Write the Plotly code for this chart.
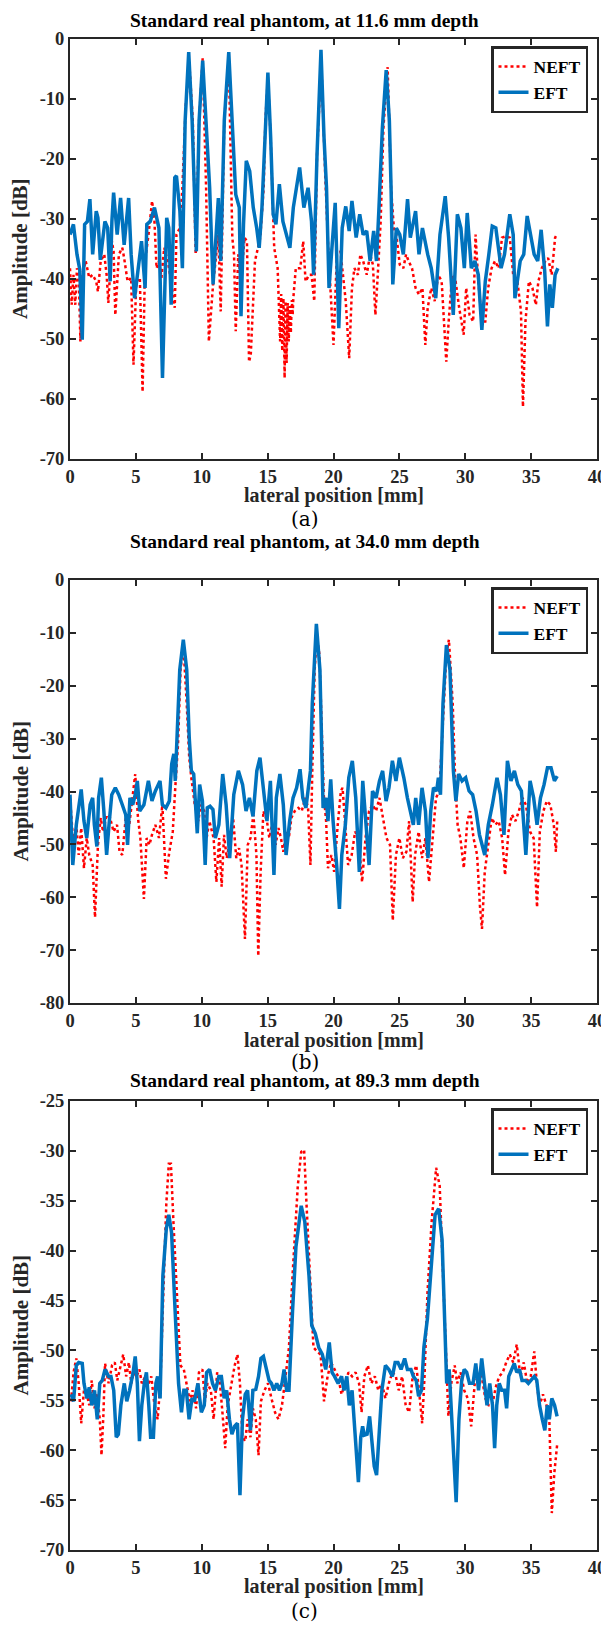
import plotly.graph_objects as go

# ---------------- data (lateral position [mm], amplitude [dB]) ----------------
# (a) 11.6 mm depth
a_eft_x = [0.00,0.26,0.53,0.74,0.93,1.11,1.32,1.51,1.72,1.99,2.12,2.30,2.65,2.86,3.05,3.18,3.31,3.58,3.84,4.11,4.45,4.64,4.90,5.17,5.43,5.70,5.83,6.09,6.41,6.75,7.02,7.34,7.50,7.68,7.95,8.08,8.34,8.53,8.74,9.01,9.27,9.59,9.80,10.07,10.33,10.60,10.86,11.26,11.44,11.71,12.05,12.32,12.58,12.85,12.98,13.17,13.38,13.64,13.91,14.17,14.36,14.57,14.78,15.02,15.23,15.42,15.63,15.89,16.16,16.42,16.69,16.95,17.43,17.75,18.07,18.33,18.49,18.75,19.05,19.28,19.47,19.66,20.13,20.40,20.66,20.93,21.19,21.40,21.72,21.99,22.25,22.52,22.78,23.05,23.26,23.44,23.71,24.00,24.24,24.37,24.50,24.77,25.03,25.30,25.62,25.83,26.23,26.49,26.75,27.15,27.42,27.76,28.08,28.48,28.74,29.09,29.40,29.67,29.93,30.15,30.46,30.73,30.99,31.26,31.52,31.79,32.05,32.32,32.72,32.98,33.38,33.64,33.77,34.17,34.44,34.70,34.97,35.23,35.50,35.76,36.03,36.24,36.42,36.61,36.82,37.03]
a_eft = [-32.6,-30.9,-35.9,-38.4,-50.1,-30.9,-30.4,-26.7,-35.9,-28.7,-29.8,-36.8,-30.4,-31.5,-40.4,-30.4,-25.6,-32.6,-26.5,-34.3,-26.5,-35.9,-43.2,-38.2,-33.7,-41.5,-30.9,-30.4,-28.1,-31.5,-56.5,-29.8,-31.5,-44.3,-23.1,-22.8,-28.7,-38.2,-13.6,-2.2,-13.6,-35.4,-13.6,-3.6,-13.6,-24.8,-40.9,-26.5,-37.0,-13.6,-2.2,-13.6,-25.9,-28.1,-46.2,-30.9,-20.3,-22.0,-28.1,-31.5,-34.8,-28.1,-16.4,-5.6,-16.4,-29.2,-30.9,-24.2,-30.4,-32.6,-34.8,-28.1,-21.4,-28.1,-24.8,-30.4,-39.3,-19.2,-1.8,-16.4,-24.8,-41.5,-27.3,-48.2,-31.5,-27.9,-32.0,-27.0,-33.1,-29.2,-32.6,-32.0,-37.0,-32.0,-37.0,-28.7,-14.8,-5.2,-13.6,-24.8,-40.9,-31.5,-32.6,-35.9,-26.7,-33.1,-28.7,-35.9,-31.5,-35.9,-38.2,-43.2,-32.6,-26.2,-33.1,-46.0,-29.2,-31.5,-38.2,-29.0,-38.2,-37.0,-39.3,-48.5,-40.4,-35.9,-31.2,-31.5,-38.2,-35.9,-29.2,-32.6,-43.2,-37.0,-35.9,-29.5,-32.6,-35.9,-37.0,-31.8,-38.7,-47.9,-40.9,-44.8,-39.3,-38.2]
a_neft_x = [0.00,0.13,0.26,0.40,0.53,0.66,0.79,0.93,1.19,1.46,1.72,1.99,2.12,2.33,2.60,2.78,2.91,3.18,3.31,3.44,3.71,3.97,4.11,4.37,4.64,4.82,5.03,5.30,5.51,5.70,5.96,6.23,6.41,6.57,6.75,6.94,7.15,7.42,7.68,7.95,8.08,8.34,8.53,8.79,9.06,9.32,9.54,9.80,10.07,10.33,10.54,10.86,11.26,11.44,11.71,12.05,12.32,12.45,12.58,12.77,12.98,13.25,13.43,13.59,13.72,13.91,14.04,14.44,14.70,14.83,15.02,15.23,15.36,15.50,15.76,15.85,15.95,16.03,16.11,16.20,16.29,16.36,16.44,16.52,16.60,16.68,16.76,16.84,16.90,16.95,17.14,17.48,17.70,17.88,18.15,18.33,18.54,18.75,19.07,19.39,19.60,20.00,20.26,20.53,20.79,20.93,21.19,21.40,21.59,21.85,22.04,22.25,22.52,22.78,22.99,23.18,23.36,23.58,23.79,24.11,24.37,24.58,24.77,25.03,25.30,25.51,25.70,25.96,26.23,26.49,26.75,26.97,27.15,27.42,27.68,27.95,28.21,28.34,28.56,28.74,29.01,29.27,29.54,29.88,30.07,30.33,30.60,30.78,30.99,31.26,31.52,31.74,32.00,32.26,32.53,32.79,33.06,33.38,33.64,33.96,34.23,34.38,34.57,34.83,35.10,35.36,35.55,35.81,36.08,36.29,36.56,36.82,36.95]
a_neft = [-38.2,-44.3,-39.3,-44.3,-38.2,-39.3,-50.4,-39.3,-37.0,-39.8,-39.3,-40.4,-42.1,-37.0,-35.9,-39.3,-44.0,-33.7,-35.4,-46.0,-35.9,-34.8,-36.5,-40.4,-39.8,-54.3,-40.4,-39.8,-58.8,-37.0,-32.6,-27.0,-30.4,-38.2,-37.0,-39.8,-34.8,-37.0,-40.4,-44.8,-32.6,-31.5,-24.8,-10.9,-4.2,-13.6,-35.9,-13.6,-3.2,-24.8,-50.4,-40.9,-32.6,-45.4,-13.6,-3.1,-33.1,-35.9,-48.7,-35.9,-40.4,-33.1,-33.7,-53.8,-52.6,-44.3,-37.0,-33.1,-24.8,-13.6,-6.4,-16.4,-24.8,-34.8,-38.2,-44.0,-50.4,-42.5,-52.0,-43.2,-56.5,-43.7,-54.0,-44.0,-50.4,-44.5,-49.0,-43.5,-46.0,-43.2,-38.2,-38.2,-33.7,-40.4,-39.3,-39.3,-43.7,-19.2,-3.6,-23.7,-34.8,-51.0,-35.9,-35.4,-41.5,-43.7,-53.2,-41.5,-38.2,-39.3,-35.9,-37.0,-39.3,-35.9,-37.6,-46.0,-39.3,-30.4,-14.8,-4.7,-24.8,-31.5,-32.6,-37.6,-38.2,-35.9,-37.0,-38.2,-41.5,-42.6,-41.5,-51.0,-44.8,-41.5,-43.7,-39.3,-40.4,-46.0,-53.8,-47.1,-39.3,-40.4,-44.8,-49.3,-41.5,-46.0,-47.1,-32.6,-40.4,-47.1,-47.1,-41.5,-38.2,-37.0,-38.2,-33.1,-32.9,-33.1,-39.3,-40.4,-45.4,-61.3,-47.1,-40.4,-41.5,-44.3,-40.4,-38.2,-37.0,-36.5,-39.3,-33.1,-32.6]

# (b) 34.0 mm depth
b_eft_x = [0.00,0.21,0.48,0.66,0.85,1.06,1.27,1.53,1.72,1.85,2.04,2.17,2.38,2.57,2.78,2.96,3.17,3.44,3.70,3.97,4.23,4.37,4.55,4.76,4.95,5.11,5.29,5.61,5.95,6.22,6.48,6.83,7.01,7.28,7.54,7.72,7.88,7.99,8.12,8.33,8.60,8.86,9.05,9.21,9.39,9.52,9.66,9.84,10.05,10.26,10.42,10.63,10.85,11.03,11.30,11.59,11.85,12.12,12.43,12.78,13.10,13.36,13.62,13.89,14.18,14.42,14.68,14.95,15.21,15.48,15.66,15.93,16.19,16.40,16.67,16.93,17.20,17.46,17.67,17.91,18.12,18.25,18.39,18.70,18.97,19.10,19.21,19.44,19.58,19.79,19.97,20.24,20.45,20.63,20.90,21.16,21.43,21.69,21.96,22.22,22.49,22.70,22.96,23.23,23.49,23.73,23.99,24.21,24.47,24.74,25.00,25.34,25.61,25.82,26.06,26.24,26.46,26.72,26.98,27.17,27.38,27.59,27.83,27.96,28.12,28.31,28.57,28.84,29.10,29.29,29.50,29.76,30.03,30.29,30.56,30.82,31.08,31.48,31.75,32.06,32.41,32.67,32.94,33.20,33.47,33.73,33.99,34.26,34.60,34.92,35.19,35.45,35.71,35.98,36.24,36.51,36.77,36.98]
b_eft = [-40.6,-53.9,-46.3,-42.5,-39.6,-45.6,-48.8,-42.5,-41.2,-46.3,-50.4,-41.2,-37.4,-43.7,-52.0,-46.3,-40.6,-39.3,-40.6,-42.5,-44.4,-50.1,-41.2,-42.5,-40.6,-38.0,-43.7,-42.5,-38.0,-41.8,-39.9,-38.0,-42.5,-43.1,-41.8,-34.8,-32.9,-38.0,-29.8,-17.0,-11.3,-17.0,-29.8,-36.1,-36.7,-41.2,-47.9,-38.7,-41.8,-53.9,-43.1,-42.8,-43.4,-48.8,-46.3,-36.7,-42.5,-52.6,-40.6,-36.1,-38.7,-43.7,-41.2,-44.7,-36.1,-33.6,-39.3,-45.6,-38.0,-55.8,-41.2,-36.7,-42.5,-52.0,-45.6,-41.2,-39.3,-35.8,-41.2,-43.1,-38.7,-36.1,-23.4,-8.3,-17.0,-36.1,-43.1,-41.2,-45.6,-37.7,-45.6,-53.9,-62.2,-52.0,-46.3,-37.4,-34.2,-41.2,-55.2,-38.0,-46.3,-53.9,-39.9,-41.2,-38.0,-36.1,-41.8,-39.3,-34.2,-38.0,-33.6,-37.4,-41.2,-43.7,-46.3,-41.2,-46.3,-39.3,-43.7,-52.6,-43.7,-39.3,-39.9,-37.4,-40.6,-23.4,-12.3,-17.0,-36.1,-41.8,-36.7,-38.0,-37.4,-39.9,-40.6,-43.7,-48.2,-52.0,-46.3,-42.5,-37.4,-40.6,-48.2,-34.2,-38.0,-36.1,-38.7,-39.9,-52.0,-38.0,-41.2,-46.3,-41.2,-38.7,-35.5,-35.5,-38.0,-37.1]
b_neft_x = [0.00,0.13,0.26,0.48,0.66,0.85,1.06,1.27,1.46,1.72,1.90,2.12,2.33,2.51,2.78,3.04,3.31,3.57,3.76,3.97,4.23,4.50,4.76,4.95,5.16,5.34,5.61,5.82,6.03,6.22,6.48,6.75,7.01,7.28,7.54,7.80,7.99,8.20,8.39,8.60,8.86,9.05,9.21,9.47,9.74,9.92,10.19,10.37,10.58,10.90,11.11,11.32,11.51,11.69,11.90,12.17,12.38,12.62,12.83,13.02,13.28,13.49,13.70,13.92,14.15,14.29,14.47,14.68,14.95,15.13,15.34,15.61,15.82,16.01,16.19,16.40,16.61,16.80,17.06,17.33,17.59,17.86,18.07,18.25,18.39,18.57,18.73,18.92,19.05,19.26,19.44,19.58,19.84,20.05,20.32,20.56,20.69,20.90,21.11,21.38,21.64,21.90,22.17,22.43,22.70,22.96,23.23,23.49,23.76,24.02,24.29,24.50,24.74,25.00,25.26,25.53,25.74,26.01,26.19,26.46,26.72,26.98,27.25,27.51,27.78,28.04,28.31,28.57,28.76,29.05,29.23,29.42,29.63,29.89,30.16,30.37,30.63,30.90,31.11,31.27,31.48,31.75,32.01,32.28,32.54,32.80,33.02,33.28,33.54,33.81,34.07,34.34,34.60,34.92,35.19,35.45,35.66,35.93,36.19,36.46,36.72,36.88,36.98]
b_neft = [-41.2,-45.6,-50.1,-46.3,-52.0,-46.9,-54.5,-48.8,-52.0,-53.9,-63.8,-50.1,-45.0,-47.6,-44.4,-45.0,-47.6,-46.3,-51.4,-52.0,-45.0,-46.3,-41.2,-36.7,-45.0,-48.8,-60.3,-48.8,-50.1,-48.2,-46.3,-48.8,-42.5,-56.5,-51.4,-47.6,-39.3,-31.0,-17.0,-12.0,-23.4,-33.6,-37.4,-42.5,-45.6,-42.5,-43.7,-48.8,-45.6,-48.8,-57.1,-48.8,-58.0,-48.2,-52.6,-48.8,-45.0,-52.6,-50.7,-53.9,-67.9,-50.1,-48.8,-44.4,-52.0,-71.1,-55.2,-43.7,-45.6,-48.8,-46.3,-50.1,-46.9,-48.8,-51.4,-47.6,-48.8,-45.0,-43.7,-43.1,-43.7,-41.2,-43.1,-53.9,-36.1,-17.0,-10.7,-13.9,-23.4,-40.6,-45.6,-54.5,-52.0,-55.2,-46.3,-39.9,-39.3,-46.3,-53.9,-52.0,-47.6,-48.8,-57.1,-48.8,-43.7,-42.5,-43.7,-41.2,-45.0,-48.8,-50.1,-64.4,-52.0,-48.8,-52.6,-51.4,-45.6,-60.9,-52.0,-47.6,-52.6,-48.8,-57.1,-48.8,-41.2,-39.9,-26.6,-13.9,-11.3,-23.4,-37.4,-46.3,-48.8,-54.5,-45.6,-43.7,-48.8,-52.0,-61.5,-66.0,-55.2,-50.1,-45.0,-46.3,-45.6,-48.8,-55.8,-47.6,-44.4,-45.6,-43.7,-41.2,-42.5,-47.6,-48.8,-61.9,-47.6,-43.7,-41.8,-42.5,-46.3,-51.4,-45.6]

# (c) 89.3 mm depth
c_eft_x = [0.08,0.27,0.48,0.66,0.93,1.06,1.28,1.46,1.65,1.86,2.07,2.26,2.45,2.66,2.93,3.11,3.32,3.51,3.67,3.86,4.12,4.31,4.52,4.79,4.95,5.11,5.27,5.45,5.64,5.80,5.98,6.12,6.33,6.52,6.65,6.84,7.05,7.31,7.50,7.71,7.98,8.24,8.46,8.64,8.83,9.04,9.26,9.44,9.71,9.97,10.19,10.37,10.59,10.82,11.04,11.30,11.49,11.70,11.89,12.10,12.29,12.50,12.71,12.90,13.09,13.30,13.48,13.70,13.88,14.10,14.31,14.49,14.68,14.89,15.11,15.29,15.48,15.69,15.90,16.09,16.25,16.44,16.62,16.89,17.15,17.55,17.82,18.14,18.35,18.62,18.88,19.15,19.41,19.68,19.89,20.08,20.35,20.61,20.80,21.01,21.20,21.41,21.68,21.89,22.07,22.21,22.34,22.55,22.74,22.87,23.09,23.27,23.46,23.67,23.94,24.20,24.47,24.68,24.89,25.13,25.40,25.61,25.88,26.06,26.28,26.46,26.68,26.86,27.13,27.39,27.71,27.98,28.24,28.46,28.59,28.78,28.94,29.12,29.31,29.52,29.73,29.92,30.11,30.32,30.59,30.80,31.01,31.25,31.46,31.65,31.86,32.07,32.23,32.39,32.58,32.77,32.98,33.14,33.30,33.51,33.72,33.91,34.12,34.31,34.57,34.79,34.97,35.24,35.43,35.64,35.85,36.04,36.22,36.38,36.57,36.78,36.97]
c_eft = [-54.4,-55.1,-51.5,-51.2,-51.3,-53.3,-54.8,-53.7,-55.5,-54.0,-56.9,-53.3,-53.0,-51.9,-52.6,-52.6,-54.0,-58.7,-58.4,-55.5,-53.3,-55.1,-54.0,-52.2,-50.6,-53.3,-59.1,-55.5,-53.3,-52.2,-55.5,-58.7,-58.7,-53.3,-52.6,-54.8,-42.5,-37.8,-36.4,-38.2,-46.1,-53.3,-56.2,-54.0,-54.0,-56.9,-54.8,-55.1,-53.3,-56.2,-55.5,-52.2,-51.9,-53.3,-54.0,-52.6,-52.6,-54.8,-54.0,-56.9,-58.4,-57.6,-57.3,-64.5,-56.9,-54.4,-54.0,-58.0,-54.0,-53.9,-52.6,-50.8,-50.6,-51.9,-53.0,-53.3,-54.0,-53.3,-54.0,-53.3,-51.9,-54.0,-54.0,-46.1,-39.6,-35.5,-37.1,-42.5,-47.5,-48.3,-49.7,-50.4,-51.9,-49.2,-52.2,-52.6,-53.3,-52.6,-54.0,-52.6,-55.5,-54.0,-59.8,-63.2,-58.7,-57.6,-58.5,-58.4,-56.6,-58.7,-61.6,-62.5,-58.7,-54.0,-51.5,-51.9,-52.6,-51.2,-51.2,-51.9,-50.8,-51.9,-51.9,-52.6,-53.0,-54.6,-54.0,-49.7,-46.8,-42.5,-36.4,-35.8,-38.9,-47.9,-53.3,-51.9,-55.5,-60.5,-65.2,-56.9,-53.0,-51.9,-52.2,-53.3,-53.3,-51.3,-54.0,-50.8,-53.3,-55.5,-53.3,-55.5,-59.8,-55.5,-53.3,-54.0,-54.0,-55.8,-52.6,-51.9,-51.3,-52.2,-51.9,-53.0,-53.0,-53.3,-53.0,-52.6,-53.0,-55.5,-56.9,-58.0,-55.5,-56.9,-54.8,-55.5,-56.6]
c_neft_x = [0.08,0.27,0.48,0.66,0.85,1.06,1.28,1.46,1.65,1.86,2.07,2.26,2.39,2.53,2.66,2.93,3.19,3.40,3.59,3.78,4.04,4.26,4.47,4.65,4.84,5.05,5.27,5.45,5.72,5.98,6.17,6.38,6.65,6.86,7.05,7.31,7.50,7.66,7.85,8.11,8.38,8.64,8.83,9.10,9.31,9.57,9.79,10.05,10.24,10.43,10.69,10.90,11.17,11.38,11.57,11.78,11.97,12.23,12.50,12.71,12.90,13.09,13.30,13.48,13.70,13.88,14.10,14.31,14.49,14.76,15.03,15.29,15.56,15.82,16.09,16.36,16.62,16.89,17.29,17.55,17.77,17.95,18.22,18.48,18.75,19.02,19.28,19.55,19.81,20.08,20.35,20.61,20.88,21.14,21.41,21.68,21.94,22.13,22.34,22.61,22.87,23.14,23.40,23.67,23.94,24.20,24.47,24.73,24.95,25.21,25.48,25.74,26.01,26.28,26.49,26.73,26.91,27.13,27.45,27.79,28.06,28.32,28.59,28.72,28.94,29.20,29.39,29.65,29.92,30.19,30.45,30.72,30.98,31.25,31.52,31.78,32.05,32.31,32.58,32.85,33.11,33.38,33.64,33.91,34.18,34.44,34.71,34.97,35.24,35.43,35.64,35.90,36.17,36.38,36.57,36.76,36.97]
c_neft = [-55.1,-52.2,-50.8,-53.3,-57.3,-54.0,-54.4,-55.5,-53.0,-55.8,-54.4,-56.9,-60.5,-56.6,-51.3,-53.3,-51.5,-51.2,-53.0,-51.9,-50.4,-52.6,-51.2,-53.3,-52.2,-52.6,-51.9,-53.3,-52.6,-53.3,-52.6,-55.1,-56.9,-53.3,-46.1,-35.3,-31.3,-31.3,-37.1,-44.3,-51.5,-51.9,-53.3,-55.1,-54.0,-55.8,-52.2,-51.9,-55.1,-53.3,-54.0,-56.9,-52.2,-53.3,-56.2,-59.8,-55.5,-53.3,-51.5,-50.4,-53.3,-58.7,-59.1,-56.9,-58.7,-55.8,-56.9,-60.5,-55.1,-54.0,-53.3,-54.8,-56.2,-56.9,-55.5,-52.6,-49.7,-42.5,-33.5,-30.1,-29.9,-35.3,-42.5,-49.7,-50.1,-50.4,-55.1,-52.6,-51.2,-51.9,-52.6,-54.4,-53.3,-52.2,-52.6,-52.2,-53.3,-56.2,-52.6,-51.5,-53.3,-52.6,-54.0,-53.3,-54.8,-53.3,-52.2,-52.6,-54.0,-52.6,-55.5,-56.2,-52.6,-51.5,-54.0,-57.3,-52.6,-44.3,-37.1,-31.7,-33.5,-42.5,-51.5,-56.6,-53.3,-51.5,-53.3,-52.2,-54.0,-54.8,-57.6,-53.3,-52.6,-52.6,-54.8,-55.5,-55.5,-53.7,-52.6,-52.2,-51.2,-50.4,-51.2,-49.4,-52.6,-51.2,-53.3,-52.6,-50.1,-53.3,-55.5,-54.4,-55.5,-56.9,-66.3,-62.3,-59.5]

titles = ["Standard real phantom, at 11.6 mm depth",
          "Standard real phantom, at 34.0 mm depth",
          "Standard real phantom, at 89.3 mm depth"]
panel_tags = ["(a)", "(b)", "(c)"]
series_names = ["NEFT", "EFT"]
x_tickvals = [0, 5, 10, 15, 20, 25, 30, 35, 40]
x_ticktext = ["0", "5", "10", "15", "20", "25", "30", "35", "40"]
y_ranges = [(-70, 0), (-80, 0), (-70, -25)]
y_tickvals = [[0, -10, -20, -30, -40, -50, -60, -70],
              [0, -10, -20, -30, -40, -50, -60, -70, -80],
              [-25, -30, -35, -40, -45, -50, -55, -60, -65, -70]]
y_ticktext = [["0", "-10", "-20", "-30", "-40", "-50", "-60", "-70"],
              ["0", "-10", "-20", "-30", "-40", "-50", "-60", "-70", "-80"],
              ["-25", "-30", "-35", "-40", "-45", "-50", "-55", "-60", "-65", "-70"]]

# ---------------- layout geometry (window pixels) ----------------
WIN_W, WIN_H = 609, 1625
PAD = 8                      # page body margin around the plot div
W, H = WIN_W - PAD, WIN_H - PAD
X0, X1 = 70, 597
panels_px = [(39, 459), (580, 1003), (1101, 1550)]   # axes box (top, bottom)
title_px = [20, 541, 1080]
xlabel_px = [496, 1040, 1586]
tag_px = [519, 1062, 1611]

FONT = "Liberation Serif"
INK = "#262626"
BLUE = "#0072BD"
RED = "#FF0000"

def fx(p):
    return (p - PAD) / W

def fy(p):
    return 1 - (p - PAD) / H

fig = go.Figure()
data_sets = [
    (a_neft_x, a_neft, a_eft_x, a_eft),
    (b_neft_x, b_neft, b_eft_x, b_eft),
    (c_neft_x, c_neft, c_eft_x, c_eft),
]
annotations = []
for i, (nx, ny, ex, ey) in enumerate(data_sets):
    k = "" if i == 0 else str(i + 1)
    leg = "legend" + k
    fig.add_trace(go.Scatter(x=nx, y=ny, mode="lines", name=series_names[0],
                             line=dict(color=RED, width=2.5, dash="dot"),
                             xaxis="x" + k, yaxis="y" + k, legend=leg))
    fig.add_trace(go.Scatter(x=ex, y=ey, mode="lines", name=series_names[1],
                             line=dict(color=BLUE, width=3.5),
                             xaxis="x" + k, yaxis="y" + k, legend=leg))
    top, bot = panels_px[i]
    lo, hi = y_ranges[i]
    axcommon = dict(showline=True, linecolor=INK, linewidth=2, mirror="ticks",
                    ticks="inside", ticklen=6, tickwidth=2, tickcolor=INK,
                    showgrid=False, zeroline=False, automargin=False,
                    tickfont=dict(family=FONT, size=18.5, color=INK, weight="bold"))
    fig.update_layout(**{
        "xaxis" + k: dict(domain=[fx(X0), fx(X1)], range=[0, 40],
                          tickvals=x_tickvals, ticktext=x_ticktext,
                          anchor="y" + k, **axcommon),
        "yaxis" + k: dict(domain=[fy(bot), fy(top)], range=[lo, hi],
                          tickvals=y_tickvals[i], ticktext=y_ticktext[i],
                          anchor="x" + k, **axcommon),
        leg: dict(x=fx(X1 - 9), y=fy(top + 7), xanchor="right", yanchor="top",
                  bgcolor="white", bordercolor=INK, borderwidth=2.5,
                  font=dict(family=FONT, size=17.5, color="black", weight="bold"),
                  tracegroupgap=0, itemwidth=30),
    })
    cx = fx((X0 + X1) / 2)
    annotations += [
        dict(text=titles[i], x=fx(WIN_W / 2), y=fy(title_px[i]), xref="paper", yref="paper",
             showarrow=False, yanchor="middle",
             font=dict(family=FONT, size=19.5, color="black", weight="bold")),
        dict(text="lateral position [mm]", x=cx, y=fy(xlabel_px[i]), xref="paper", yref="paper",
             showarrow=False, yanchor="middle",
             font=dict(family=FONT, size=20, color=INK, weight="bold")),
        dict(text="Amplitude [dB]", x=fx(20), y=fy((top + bot) / 2), xref="paper", yref="paper",
             showarrow=False, textangle=-90, xanchor="center", yanchor="middle",
             font=dict(family=FONT, size=21, color=INK, weight="bold")),
        dict(text=panel_tags[i], x=fx(WIN_W / 2), y=fy(tag_px[i]), xref="paper", yref="paper",
             showarrow=False, yanchor="middle",
             font=dict(family="DejaVu Serif", size=20, color="black")),
    ]

fig.update_layout(width=W, height=H, margin=dict(l=0, r=0, t=0, b=0),
                  plot_bgcolor="white", paper_bgcolor="white",
                  annotations=annotations)
fig.write_html("out.html")
